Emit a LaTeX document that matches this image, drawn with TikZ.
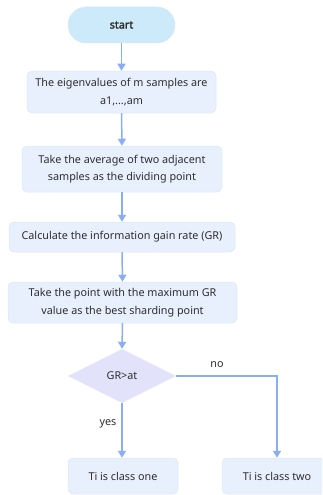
\documentclass[tikz,border=0pt]{standalone}
\usepackage{fontspec}
\setmainfont{Noto Sans}
\newfontfamily\startfont{Noto Sans}[FakeBold=2.2]
\usetikzlibrary{arrows.meta,shapes.geometric}
\definecolor{startfill}{HTML}{CDEAFB}
\definecolor{boxfill}{HTML}{E8F0FD}
\definecolor{boxline}{HTML}{DCE6F7}
\definecolor{diafill}{HTML}{E2E2FA}
\definecolor{arrowc}{HTML}{8AADF7}
\definecolor{txt}{HTML}{2E2E2E}
\tikzset{
  base/.style={font=\fontsize{10.8}{17.5}\selectfont, text=txt, align=center, inner sep=0pt},
  stepbox/.style={base, rectangle, rounded corners=5pt, fill=boxfill, draw=boxline, line width=0.5pt},
  flow/.style={draw=arrowc, line width=1.5pt, -{Triangle[width=8pt,length=7pt]}},
  lab/.style={font=\fontsize{10.8}{12}\selectfont, text=txt, inner sep=0pt}
}
\begin{document}
\begin{tikzpicture}[x=1pt,y=-1pt]
\useasboundingbox (0,0) rectangle (322,495);
\clip (0,0) rectangle (322,495);
\node[base, rounded corners=18pt, fill=startfill, draw=boxline, line width=0.5pt, minimum width=107pt, minimum height=36pt] (start) at (121.5,25) {\startfont start};
\node[stepbox, minimum width=189pt, minimum height=42pt] (eig) at (121.5,92) {The eigenvalues of m samples are\\a1,...,am};
\node[stepbox, minimum width=200pt, minimum height=46pt] (avg) at (122,169) {Take the average of two adjacent\\samples as the dividing point};
\node[stepbox, minimum width=226pt, minimum height=30pt] (gr) at (122,237) {Calculate the information gain rate (GR)};
\node[stepbox, minimum width=229pt, minimum height=41pt] (best) at (122.5,302.5) {Take the point with the maximum GR\\value as the best sharding point};
\node[base, diamond, fill=diafill, minimum width=108pt, minimum height=54pt, aspect=2] (dec) at (122,376) {GR>at};
\node[stepbox, minimum width=110pt, minimum height=36pt] (one) at (123,476) {Ti is class one};
\node[stepbox, minimum width=110pt, minimum height=36pt] (two) at (277,476) {Ti is class two};
\coordinate (corner) at (two.north |- dec.east);
\draw[flow] (start.south) -- (eig.north);
\draw[flow] (eig.south) -- (avg.north);
\draw[flow] (avg.south) -- (gr.north);
\draw[flow] (gr.south) -- (best.north);
\draw[flow] (best.south) -- (dec.north);
\draw[flow] (dec.south) -- (dec.south |- one.north);
\draw[flow] (dec.east) -- (corner) -- (two.north);
\node[lab] (yes) at (108,424) {yes};
\node[lab] (no) at (217,365) {no};
\end{tikzpicture}
\end{document}
